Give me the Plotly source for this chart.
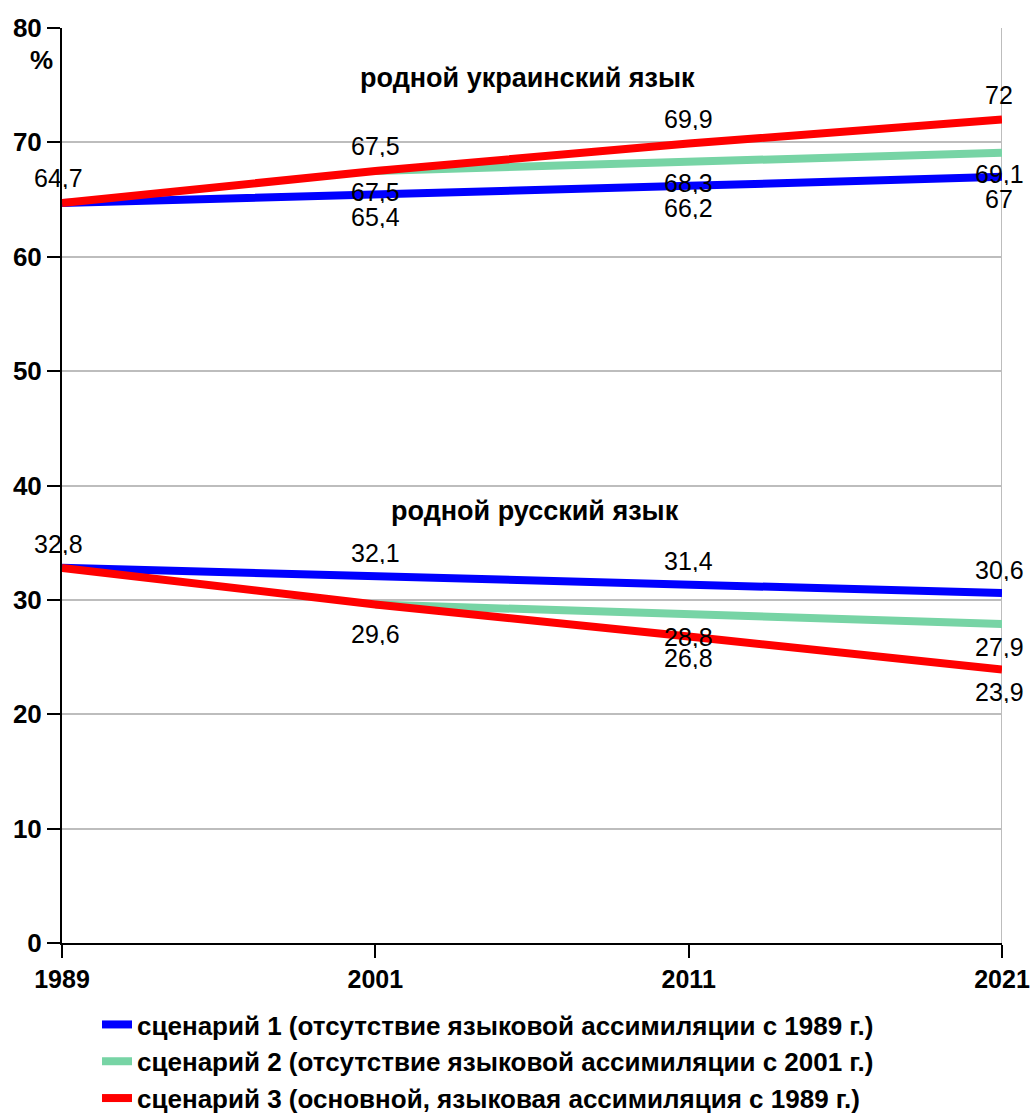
import plotly.graph_objects as go

years = ["1989", "2001", "2011", "2021"]
ua_s1 = [64.7, 65.4, 66.2, 67.0]
ua_s2 = [None, 67.5, 68.3, 69.1]
ua_s3 = [64.7, 67.5, 69.9, 72.0]
ru_s1 = [32.8, 32.1, 31.4, 30.6]
ru_s2 = [None, 29.6, 28.8, 27.9]
ru_s3 = [32.8, 29.6, 26.8, 23.9]
y_ticks = [0, 10, 20, 30, 40, 50, 60, 70, 80]
legend_names = [
    "сценарий 1 (отсутствие языковой ассимиляции с 1989 г.)",
    "сценарий 2 (отсутствие языковой ассимиляции с 2001 г.)",
    "сценарий 3 (основной, языковая ассимиляция с 1989 г.)",
]
title_ua = "родной украинский язык"
title_ru = "родной русский язык"

colors = ["#0000ff", "#77d4a5", "#ff0000"]
FONT = "Liberation Sans"

xi = list(range(len(years)))


def joined(a, b):
    xs, ys = [], []
    for i, v in enumerate(a):
        if v is not None:
            xs.append(i); ys.append(v)
    xs.append(None); ys.append(None)
    for i, v in enumerate(b):
        if v is not None:
            xs.append(i); ys.append(v)
    return xs, ys


fig = go.Figure()
series = [(ua_s1, ru_s1), (ua_s2, ru_s2), (ua_s3, ru_s3)]
for k, (a, b) in enumerate(series):
    xs, ys = joined(a, b)
    fig.add_trace(go.Scatter(
        x=xs, y=ys, mode="lines", name=legend_names[k],
        line=dict(color=colors[k], width=8), connectgaps=False,
        hoverinfo="skip",
    ))


def fmt(v):
    return f"{v:g}".replace(".", ",")


annotations = []


def lab(i, v, shift, xshift=0):
    annotations.append(dict(
        x=i, y=v, xref="x", yref="y", text=fmt(v), showarrow=False,
        yshift=shift, xshift=xshift, height=22, valign="middle",
        font=dict(family=FONT, size=25, color="black"),
    ))


# Ukrainian: red above, others below
lab(0, ua_s3[0], 25, -4)
for i in range(1, 4):
    xs_ = -3 if i == 3 else 0
    lab(i, ua_s3[i], 25, xs_)
    lab(i, ua_s2[i], -21, xs_)
    lab(i, ua_s1[i], -22, xs_)
# Russian: blue above, others below
lab(0, ru_s1[0], 24, -4)
for i in range(1, 4):
    xs_ = -3 if i == 3 else 0
    lab(i, ru_s1[i], 23, xs_)
    if i > 1:
        lab(i, ru_s2[i], -23, xs_)
    lab(i, ru_s3[i], -22 if i > 1 else -30, xs_)

annotations.append(dict(x=0.495, y=75.6, xref="paper", yref="y", text=title_ua,
                        showarrow=False,
                        font=dict(family=FONT, size=27, color="black", weight="bold")))
annotations.append(dict(x=0.503, y=37.8, xref="paper", yref="y", text=title_ru,
                        showarrow=False,
                        font=dict(family=FONT, size=27, color="black", weight="bold")))
annotations.append(dict(x=-0.036, y=77.2, xref="paper", yref="y", text="%",
                        showarrow=False,
                        font=dict(family=FONT, size=26, color="black", weight="bold")))

fig.update_layout(
    width=1030, height=1115,
    margin=dict(l=62, r=28, t=28, b=172, autoexpand=False),
    paper_bgcolor="white", plot_bgcolor="white",
    annotations=annotations,
    showlegend=True,
    legend=dict(
        xref="container", yref="container",
        x=0.0942, y=0.1022, xanchor="left", yanchor="top",
        font=dict(family=FONT, size=26, color="black", weight="bold"),
        bgcolor="rgba(0,0,0,0)", tracegroupgap=0,
    ),
    shapes=[dict(type="line", xref="x", yref="y", x0=3, x1=3, y0=0, y1=80,
                 line=dict(color="#bdbdbd", width=2), layer="below")],
)
fig.update_xaxes(
    range=[0, 3], tickvals=xi, ticktext=years, automargin=False,
    ticklabeloverflow="allow",
    showgrid=False, zeroline=False,
    showline=True, linecolor="black", linewidth=2,
    ticks="outside", ticklen=13, tickwidth=2, tickcolor="black",
    tickfont=dict(family=FONT, size=25, color="black", weight="bold"),
    fixedrange=True,
)
fig.update_yaxes(
    range=[0, 80], tickvals=y_ticks, automargin=False,
    showgrid=True, gridcolor="#bdbdbd", gridwidth=2, zeroline=False,
    showline=True, linecolor="black", linewidth=2,
    ticks="outside", ticklen=13, tickwidth=2, tickcolor="black",
    tickfont=dict(family=FONT, size=26, color="black", weight="bold"),
    fixedrange=True,
)
fig.write_html(
    "out.html",
    config={"displayModeBar": False},
    post_script="document.body.style.margin='0';document.body.style.overflow='hidden';",
)
